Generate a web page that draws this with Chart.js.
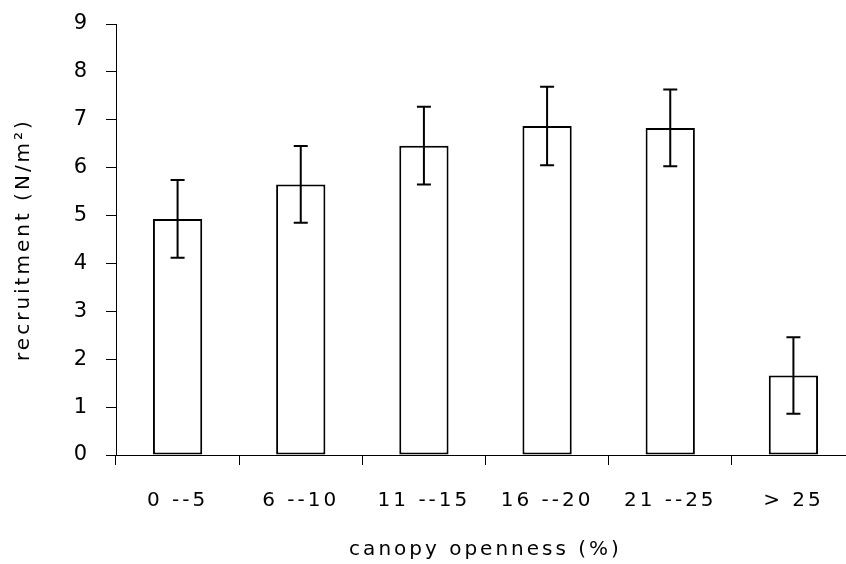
<!DOCTYPE html>
<html>
<head>
<meta charset="utf-8">
<script src="https://cdn.jsdelivr.net/npm/chart.js@4/dist/chart.umd.min.js"></script>
<style>
  html, body { margin: 0; padding: 0; background: #fff; overflow: hidden; }
  #wrap { width: 846px; height: 564px; overflow: hidden; }
  canvas { display: block; }
</style>
</head>
<body>
<div id="wrap"><canvas id="c" width="860" height="564"></canvas></div>
<script>
// Seedling recruitment by canopy openness class (mean ± error)
const categories = ['0 --5', '6 --10', '11 --15', '16 --20', '21 --25', '> 25'];
const recruitment = [4.93, 5.65, 6.46, 6.87, 6.83, 1.66];
const errors = [0.81, 0.80, 0.81, 0.82, 0.80, 0.80];
const yTicks = [0, 1, 2, 3, 4, 5, 6, 7, 8, 9];

const FONT = "'DejaVu Sans', 'Liberation Sans', sans-serif";

// Wide letter spacing on all canvas text
const spacing = {
  id: 'spacing',
  beforeUpdate(chart) { chart.ctx.letterSpacing = '3px'; },
  beforeDraw(chart) { chart.ctx.letterSpacing = '3px'; }
};

// Vertical error bars with flat caps
const errorBars = {
  id: 'errorBars',
  afterDatasetsDraw(chart) {
    const ctx = chart.ctx;
    const meta = chart.getDatasetMeta(0);
    const y = chart.scales.y;
    ctx.save();
    ctx.strokeStyle = '#000';
    ctx.lineWidth = 2;
    meta.data.forEach((bar, i) => {
      const v = recruitment[i], e = errors[i];
      const yTop = y.getPixelForValue(v + e);
      const yBot = y.getPixelForValue(v - e);
      const x = bar.x;
      const cap = 7;
      ctx.beginPath();
      ctx.moveTo(x, yTop); ctx.lineTo(x, yBot);
      ctx.moveTo(x - cap, yTop); ctx.lineTo(x + cap, yTop);
      ctx.moveTo(x - cap, yBot); ctx.lineTo(x + cap, yBot);
      ctx.stroke();
    });
    ctx.restore();
  }
};

new Chart(document.getElementById('c'), {
  type: 'bar',
  data: {
    labels: categories,
    datasets: [{
      data: recruitment,
      backgroundColor: '#ffffff',
      borderColor: '#000000',
      borderWidth: 2,
      borderSkipped: false,
      barPercentage: 0.4,
      categoryPercentage: 1.0
    }]
  },
  options: {
    responsive: false,
    animation: false,
    devicePixelRatio: 1,
    layout: { padding: { top: 24, right: 5, bottom: 0, left: 0 } },
    plugins: {
      legend: { display: false },
      tooltip: { enabled: false }
    },
    scales: {
      x: {
        afterFit(s) { s.height = 109; },
        grid: {
          offset: true,
          drawOnChartArea: false,
          drawTicks: true,
          tickLength: 10,
          tickColor: '#000',
          tickWidth: 1
        },
        border: { display: true, color: '#000', width: 1 },
        ticks: {
          color: '#000',
          padding: 24,
          maxRotation: 0,
          font: { family: FONT, size: 20 }
        },
        title: {
          display: true,
          text: 'canopy openness (%)',
          color: '#000',
          padding: { top: 0, bottom: 2 },
          font: { family: FONT, size: 20 }
        }
      },
      y: {
        min: 0,
        max: 9,
        afterFit(s) { s.width = 116; s.paddingTop = 0; s.paddingBottom = 0; },
        afterBuildTicks(s) { s.ticks = yTicks.map(v => ({ value: v })); },
        grid: {
          drawOnChartArea: false,
          drawTicks: true,
          tickLength: 10,
          tickColor: '#000',
          tickWidth: 1
        },
        border: { display: true, color: '#000', width: 1 },
        ticks: {
          color: '#000',
          padding: 16,
          font: { family: FONT, size: 21 }
        },
        title: {
          display: true,
          text: 'recruitment (N/m²)',
          color: '#000',
          padding: { top: 12, bottom: 0 },
          font: { family: FONT, size: 20 }
        }
      }
    }
  },
  plugins: [spacing, errorBars]
});
</script>
</body>
</html>
